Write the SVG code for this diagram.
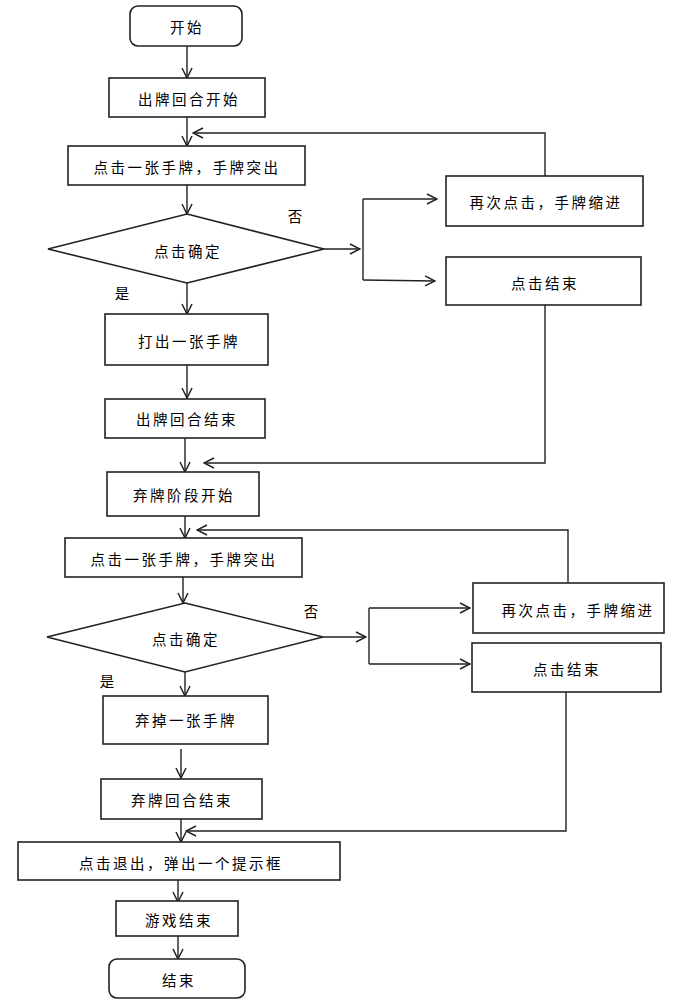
<svg xmlns="http://www.w3.org/2000/svg" width="692" height="1001" viewBox="0 0 692 1001">
<style>
.n{fill:#fff;stroke:#222;stroke-width:1.6}
.t{font-family:"Noto Sans CJK SC","Liberation Sans",sans-serif;font-size:14.5px;letter-spacing:2.5px;fill:#000;text-anchor:middle;dominant-baseline:central}
.l{font-family:"Noto Sans CJK SC","Liberation Sans",sans-serif;font-size:14.5px;fill:#000;text-anchor:middle;dominant-baseline:central}
.c{fill:none;stroke:#222;stroke-width:1.4}
</style>
<defs>
<marker id="a" viewBox="0 0 12 12" refX="11" refY="6" markerWidth="12" markerHeight="12" markerUnits="userSpaceOnUse" orient="auto">
<path d="M1,1 L11,6 L1,11" fill="none" stroke="#222" stroke-width="1.5"/>
</marker>
</defs>
<rect width="692" height="1001" fill="#fff"/>
<g id="connectors">
<line class="c" x1="187" y1="46" x2="187" y2="78" marker-end="url(#a)"/>
<line class="c" x1="187" y1="117" x2="187" y2="146" marker-end="url(#a)"/>
<polyline class="c" points="545,176 545,133 193,133" marker-end="url(#a)"/>
<line class="c" x1="187" y1="185" x2="187" y2="214" marker-end="url(#a)"/>
<line class="c" x1="324" y1="249" x2="360" y2="249" marker-end="url(#a)"/>
<line class="c" x1="363" y1="199" x2="363" y2="280"/>
<line class="c" x1="363" y1="199" x2="437" y2="199" marker-end="url(#a)"/>
<line class="c" x1="363" y1="280" x2="435" y2="281" marker-end="url(#a)"/>
<line class="c" x1="187" y1="283" x2="187" y2="314" marker-end="url(#a)"/>
<line class="c" x1="187" y1="365" x2="187" y2="398" marker-end="url(#a)"/>
<line class="c" x1="185" y1="438" x2="185" y2="472" marker-end="url(#a)"/>
<polyline class="c" points="545,305 545,463 204,463" marker-end="url(#a)"/>
<line class="c" x1="185" y1="516" x2="185" y2="538" marker-end="url(#a)"/>
<polyline class="c" points="568,583 568,530 197,530" marker-end="url(#a)"/>
<line class="c" x1="183" y1="577" x2="183" y2="603" marker-end="url(#a)"/>
<line class="c" x1="323" y1="637" x2="366" y2="637" marker-end="url(#a)"/>
<line class="c" x1="369" y1="608" x2="369" y2="664"/>
<line class="c" x1="369" y1="608" x2="470" y2="608" marker-end="url(#a)"/>
<line class="c" x1="369" y1="664" x2="470" y2="664" marker-end="url(#a)"/>
<line class="c" x1="185" y1="672" x2="185" y2="696" marker-end="url(#a)"/>
<line class="c" x1="181" y1="749" x2="181" y2="778" marker-end="url(#a)"/>
<line class="c" x1="181" y1="819" x2="181" y2="842" marker-end="url(#a)"/>
<polyline class="c" points="566,692 566,831 186,831" marker-end="url(#a)"/>
<line class="c" x1="178" y1="880" x2="178" y2="902" marker-end="url(#a)"/>
<line class="c" x1="178" y1="936" x2="178" y2="959" marker-end="url(#a)"/>
</g>
<g id="start"><rect class="n" x="130" y="6" width="112" height="40" rx="8"/><text class="t" x="187" y="26">开始</text></g>
<g id="play-start"><rect class="n" x="109" y="78" width="156" height="39"/><text class="t" x="189" y="98">出牌回合开始</text></g>
<g id="click-card-1"><rect class="n" x="68" y="146" width="237" height="39"/><text class="t" x="187" y="166">点击一张手牌，手牌突出</text></g>
<g id="confirm-1"><polygon class="n" points="187,214 324,249 187,283 48,249"/><text class="t" x="188" y="250">点击确定</text></g>
<g id="retract-1"><rect class="n" x="446" y="176" width="197" height="50"/><text class="t" x="546" y="201">再次点击，手牌缩进</text></g>
<g id="end-click-1"><rect class="n" x="446" y="257" width="195" height="48"/><text class="t" x="545" y="282">点击结束</text></g>
<g id="play-card"><rect class="n" x="105" y="314" width="163" height="51"/><text class="t" x="189" y="340">打出一张手牌</text></g>
<g id="play-end"><rect class="n" x="105" y="399" width="160" height="39"/><text class="t" x="187" y="418">出牌回合结束</text></g>
<g id="discard-start"><rect class="n" x="107" y="472" width="152" height="44"/><text class="t" x="184" y="494">弃牌阶段开始</text></g>
<g id="click-card-2"><rect class="n" x="65" y="538" width="237" height="39"/><text class="t" x="184" y="558">点击一张手牌，手牌突出</text></g>
<g id="confirm-2"><polygon class="n" points="185,603 323,637 185,672 47,637"/><text class="t" x="186" y="638">点击确定</text></g>
<g id="retract-2"><rect class="n" x="473" y="583" width="191" height="50"/><text class="t" x="578" y="609">再次点击，手牌缩进</text></g>
<g id="end-click-2"><rect class="n" x="472" y="643" width="189" height="49"/><text class="t" x="567" y="668">点击结束</text></g>
<g id="discard-card"><rect class="n" x="103" y="696" width="165" height="48"/><text class="t" x="186" y="719">弃掉一张手牌</text></g>
<g id="discard-end"><rect class="n" x="101" y="779" width="161" height="40"/><text class="t" x="182" y="799">弃牌回合结束</text></g>
<g id="exit"><rect class="n" x="18" y="842" width="322" height="38"/><text class="t" x="181" y="862">点击退出，弹出一个提示框</text></g>
<g id="game-over"><rect class="n" x="116" y="901" width="122" height="35"/><text class="t" x="179" y="919">游戏结束</text></g>
<g id="end"><rect class="n" x="109" y="959" width="136" height="39" rx="8"/><text class="t" x="179" y="979">结束</text></g>
<g id="labels">
<text class="l" x="295" y="215">否</text>
<text class="l" x="122" y="292">是</text>
<text class="l" x="311" y="610">否</text>
<text class="l" x="107" y="680">是</text>
</g>
</svg>
